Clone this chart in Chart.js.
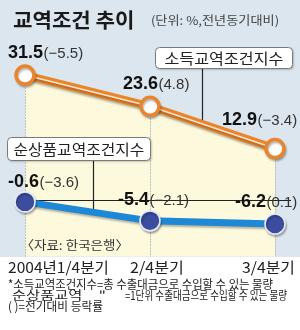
<!DOCTYPE html>
<html>
<head>
<meta charset="utf-8">
<script src="https://cdn.jsdelivr.net/npm/chart.js@4/dist/chart.umd.min.js"></script>
<style>
  html, body { margin: 0; padding: 0; background: #ffffff; }
  #wrap { width: 300px; height: 330px; background: linear-gradient(to bottom, #dce6ee 0px, #dce6ee 257px, #ffffff 257px); }
  canvas { display: block; }
</style>
</head>
<body>
<div id="wrap"><canvas id="c" width="300" height="330"></canvas></div>
<script>
// ---- data ----
const categories = ['2004년1/4분기', '2/4분기', '3/4분기'];
const incomeTerms = [31.5, 23.6, 12.9];        // 소득교역조건지수
const incomeChange = [-5.5, 4.8, -3.4];        // 전기대비 등락률
const netTerms = [-0.6, -5.4, -6.2];           // 순상품교역조건지수
const netChange = [-3.6, -2.1, 0.1];
const seriesNames = ['소득교역조건지수', '순상품교역조건지수'];
const titleText = '교역조건 추이';
const unitText = '(단위: %,전년동기대비)';
const sourceText = '〈자료: 한국은행〉';

const ORANGE = '#e8852d';
const STRIPE = '#fbe3c6';
const YELLOW = '#fdf9dd';
const BLUE = '#1e88d6';
const NAVY = '#3c4d9e';
const KR = '"Noto Sans CJK KR", "Noto Sans", sans-serif';
const NUM = '"Liberation Sans", Arial, sans-serif';

function fmtChange(v) {
  return '(' + (v < 0 ? '\u2212' + Math.abs(v).toFixed(1) : v.toFixed(1)) + ')';
}

function roundBox(ctx, x, y, w, h, r) {
  ctx.beginPath();
  ctx.moveTo(x + r, y);
  ctx.lineTo(x + w - r, y);
  ctx.arcTo(x + w, y, x + w, y + r, r);
  ctx.lineTo(x + w, y + h - r);
  ctx.arcTo(x + w, y + h, x + w - r, y + h, r);
  ctx.lineTo(x + r, y + h);
  ctx.arcTo(x, y + h, x, y + h - r, r);
  ctx.lineTo(x, y + r);
  ctx.arcTo(x, y, x + r, y, r);
  ctx.closePath();
}

// draw text from x, scaled horizontally so its ink spans exactly width w
function fitText(ctx, text, x, y, w) {
  const m = ctx.measureText(text);
  const inkL = m.actualBoundingBoxLeft || 0;
  const ink = (m.actualBoundingBoxRight || m.width) + inkL;
  const sx = ink > 0 ? w / ink : 1;
  ctx.save();
  ctx.translate(x, y);
  ctx.scale(sx, 1);
  ctx.textAlign = 'left';
  ctx.fillText(text, inkL, 0);
  ctx.restore();
}

function lineYAt(meta, x) {
  const pts = meta.data;
  for (let i = 0; i < pts.length - 1; i++) {
    const a = pts[i], b = pts[i + 1];
    if (x >= a.x && x <= b.x) {
      return a.y + (b.y - a.y) * (x - a.x) / (b.x - a.x);
    }
  }
  return pts[pts.length - 1].y;
}

const decor = {
  id: 'decor',
  beforeDatasetsDraw(chart) {
    const ctx = chart.ctx;
    const ca = chart.chartArea;
    const xs = chart.scales.x, ys = chart.scales.y;
    const m0 = chart.getDatasetMeta(0);
    ctx.save();
    // vertical guides below the orange points
    ctx.strokeStyle = '#bdbdbd';
    ctx.lineWidth = 1;
    ctx.setLineDash([2, 1]);
    categories.forEach((c, i) => {
      const x = Math.round(xs.getPixelForValue(i)) + 0.5;
      ctx.beginPath();
      ctx.moveTo(x, m0.data[i].y);
      ctx.lineTo(x, ca.bottom);
      ctx.stroke();
    });
    ctx.setLineDash([]);
    // zero line
    const y0 = Math.round(ys.getPixelForValue(0)) + 0.5;
    ctx.strokeStyle = '#222';
    ctx.beginPath();
    ctx.moveTo(ca.left, y0);
    ctx.lineTo(291, y0);
    ctx.stroke();
    // leader lines from the label boxes
    ctx.lineWidth = 1.2;
    ctx.beginPath();
    ctx.moveTo(202.5, 67);
    ctx.lineTo(202.5, lineYAt(m0, 202.5));
    ctx.moveTo(93.5, 160);
    ctx.lineTo(93.5, 209);
    ctx.stroke();
    ctx.restore();
  },
  beforeDatasetDraw(chart) {
    const ctx = chart.ctx;
    ctx.save();
    ctx.shadowColor = 'rgba(0,0,0,0.28)';
    ctx.shadowBlur = 2;
    ctx.shadowOffsetX = 1;
    ctx.shadowOffsetY = 2;
  },
  afterDatasetDraw(chart) {
    chart.ctx.restore();
  },
  afterDatasetsDraw(chart) {
    const ctx = chart.ctx;
    const m0 = chart.getDatasetMeta(1);
    const m2 = chart.getDatasetMeta(2);
    ctx.save();

    // label boxes
    const boxes = [
      { text: seriesNames[0], x: 155, y: 47, w: 137, h: 21, tw: 118 },
      { text: seriesNames[1], x: 7, y: 137, w: 143, h: 23, tw: 130 }
    ];
    boxes.forEach(b => {
      ctx.save();
      ctx.shadowColor = 'rgba(0,0,0,0.3)';
      ctx.shadowBlur = 2;
      ctx.shadowOffsetX = 1;
      ctx.shadowOffsetY = 1;
      roundBox(ctx, b.x + 0.5, b.y + 0.5, b.w, b.h, 4);
      ctx.fillStyle = '#ffffff';
      ctx.fill();
      ctx.restore();
      ctx.strokeStyle = '#7a7a7a';
      ctx.lineWidth = 1;
      roundBox(ctx, b.x + 0.5, b.y + 0.5, b.w, b.h, 4);
      ctx.stroke();
      ctx.fillStyle = '#222';
      ctx.font = '15px ' + KR;
      ctx.textBaseline = 'middle';
      fitText(ctx, b.text, b.x + (b.w - b.tw) / 2, b.y + b.h / 2 + 1, b.tw);
    });

    // value labels
    ctx.textAlign = 'left';
    ctx.textBaseline = 'alphabetic';
    const incomeOff = [[-17, -17], [-27, -17], [-53, -24]];
    const netOff = [[-17, -15], [-32, -16], [-40, -17]];
    function valueLabel(pt, off, v, ch) {
      const x = pt.x + off[0], y = pt.y + off[1];
      ctx.font = 'bold 18px ' + NUM;
      ctx.fillStyle = '#111';
      const s = v.toFixed(1);
      ctx.fillText(s, x, y);
      const w = ctx.measureText(s).width;
      ctx.font = '15px ' + NUM;
      ctx.fillStyle = '#333';
      ctx.fillText(fmtChange(ch), x + w + 0.5, y);
    }
    incomeTerms.forEach((v, i) => valueLabel(m0.data[i], incomeOff[i], v, incomeChange[i]));
    netTerms.forEach((v, i) => valueLabel(m2.data[i], netOff[i], v, netChange[i]));

    // title and unit
    ctx.fillStyle = '#1a1a1a';
    ctx.font = 'bold 20px ' + KR;
    fitText(ctx, titleText, 13, 28, 120);
    ctx.fillStyle = '#444';
    ctx.font = '12px ' + KR;
    fitText(ctx, unitText, 152, 25, 126);

    // source
    ctx.fillStyle = '#333';
    ctx.font = '12.5px ' + KR;
    fitText(ctx, sourceText, 28, 250, 94);

    // category labels
    const xs = chart.scales.x;
    ctx.fillStyle = '#222';
    ctx.font = '15px ' + KR;
    const catW = [99, 52, 51];
    categories.forEach((c, i) => {
      const px = xs.getPixelForValue(i);
      let left;
      if (i === 0) left = px - 17;
      else if (i === categories.length - 1) left = px + 18 - catW[i];
      else left = px + 6 - catW[i] / 2;
      fitText(ctx, c, left, 273, catW[i]);
    });

    // notes
    ctx.fillStyle = '#222';
    ctx.font = '12px ' + KR;
    fitText(ctx, '*소득교역조건지수=총 수출대금으로 수입할 수 있는 물량', 8, 289, 265);
    fitText(ctx, '순상품교역', 12, 300, 69);
    fitText(ctx, '"', 100, 300, 5);
    fitText(ctx, '=1단위 수출대금으로 수입할 수 있는 물량', 125, 300, 162);
    fitText(ctx, '( )=전기대비 등락률', 9, 311, 94);
    ctx.restore();
  }
};

new Chart(document.getElementById('c'), {
  type: 'line',
  data: {
    labels: categories,
    datasets: [
      { label: seriesNames[0], data: incomeTerms, borderColor: ORANGE, borderWidth: 8,
        fill: 'start', backgroundColor: YELLOW, pointRadius: 0, tension: 0, clip: false, order: 4 },
      { label: seriesNames[0] + ' stripe', data: incomeTerms, borderColor: STRIPE, borderWidth: 1.6,
        fill: false, pointRadius: 9, pointBackgroundColor: '#ffffff', pointBorderColor: ORANGE,
        pointBorderWidth: 3.5, tension: 0, clip: false, order: 3 },
      { label: seriesNames[1], data: netTerms, borderColor: BLUE, borderWidth: 7,
        fill: false, pointRadius: 10, pointBackgroundColor: NAVY, pointBorderColor: '#e4eaf7',
        pointBorderWidth: 1.6, tension: 0, clip: false, order: 1 }
    ]
  },
  options: {
    responsive: false,
    animation: false,
    devicePixelRatio: 1,
    layout: { padding: { left: 25, right: 25, top: 41.5, bottom: 73.2 } },
    scales: {
      x: { display: false },
      y: { display: false, min: -14.5, max: 40 }
    },
    plugins: {
      legend: { display: false },
      tooltip: { enabled: false },
      filler: { drawTime: 'beforeDatasetsDraw' }
    },
    events: []
  },
  plugins: [decor]
});
</script>
</body>
</html>
